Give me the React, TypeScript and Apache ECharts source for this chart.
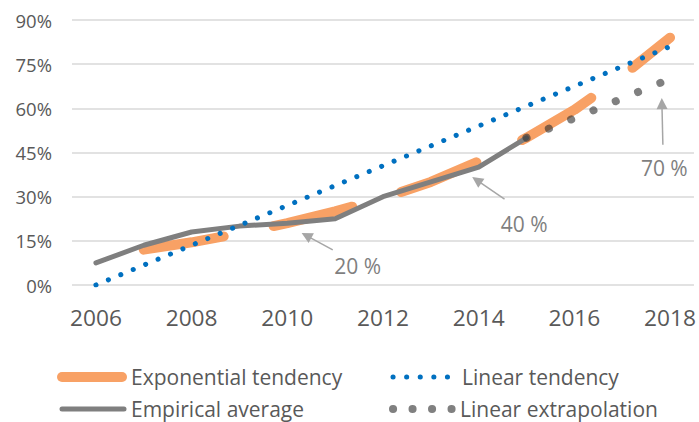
import React, { useEffect, useRef } from "react";
import * as echarts from "echarts";

// ---------- data ----------
const xTicks = [2006, 2008, 2010, 2012, 2014, 2016, 2018];
const empiricalYears = [2006, 2007, 2008, 2009, 2010, 2011, 2012, 2013, 2014, 2015];
const empiricalValues = [7.5, 13.5, 18, 20, 21, 22.5, 30, 35, 40, 50];
const exponentialYears = [2007, 2008, 2009, 2010, 2011, 2012, 2013, 2014, 2015, 2016, 2017, 2018];
const exponentialValues = [12, 14.5, 17.5, 21, 25, 29.5, 35, 42, 50, 59.5, 71, 84];
const linearYears = [2006, 2018];
const linearValues = [0, 81];
const extrapolationYears = [2015, 2018];
const extrapolationValues = [50, 70];

const annotationLabels = ["20 %", "40 %", "70 %"];
const annotationHeads = [[2010.4, 16.8], [2013.96, 35.6], [2017.83, 61.6]];
const annotationTails = [[2010.95, 11.9], [2014.54, 29.2], [2017.85, 47.6]];
const annotationTextAt = [[2011.47, 6.4], [2014.95, 20.7], [2017.88, 39.7]];

const seriesNames = ["Exponential tendency", "Empirical average", "Linear tendency", "Linear extrapolation"];

const FONT = '"Open Sans", sans-serif';
const ORANGE = "#F8A165";
const GRAY = "#7F7F7F";
const BLUE = "#0070C0";
const DOTGRAY = "rgba(50,50,50,0.62)";
const TEXT = "#595959";

const zip = (xs: number[], ys: number[]) => xs.map((x, i) => [x, ys[i]]);

export default function App() {
  const ref = useRef<HTMLDivElement>(null);
  useEffect(() => {
    if (!ref.current) return;
    const chart = echarts.init(ref.current, undefined, { renderer: "svg" });
    const legendText = (x: number, y: number, text: string) => ({
      type: "text",
      x,
      y,
      style: { text, fill: TEXT, fontSize: 21, fontFamily: FONT, align: "left", verticalAlign: "middle" },
    });
    chart.setOption({
      animation: false,
      backgroundColor: "#ffffff",
      grid: { left: 72, right: 4, top: 20, bottom: 137, containLabel: false },
      xAxis: {
        type: "value",
        min: 2005.5,
        max: 2018.5,
        axisLine: { show: false },
        axisTick: { show: false },
        splitLine: { show: false },
        axisLabel: {
          customValues: xTicks,
          formatter: (v: number) => String(v),
          color: TEXT,
          fontSize: 22.7,
          fontFamily: FONT,
          margin: 21,
        },
      },
      yAxis: {
        type: "value",
        min: 0,
        max: 90,
        interval: 15,
        axisLine: { show: false },
        axisTick: { show: false },
        splitLine: { lineStyle: { color: "#D9D9D9", width: 1.5 } },
        axisLabel: { formatter: "{value}%", color: TEXT, fontSize: 18.5, fontFamily: FONT, margin: 20 },
      },
      series: [
        {
          name: seriesNames[0],
          type: "line",
          data: zip(exponentialYears, exponentialValues),
          showSymbol: false,
          symbol: "none",
          lineStyle: { color: ORANGE, width: 10, type: [81, 51], cap: "round", join: "round" },
          silent: true,
        },
        {
          name: seriesNames[1],
          type: "line",
          data: zip(empiricalYears, empiricalValues),
          showSymbol: false,
          symbol: "none",
          lineStyle: { color: GRAY, width: 5, cap: "round", join: "round" },
          silent: true,
          markLine: {
            silent: true,
            symbol: ["none", "triangle"],
            symbolSize: 11,
            lineStyle: { color: "#A6A6A6", width: 1.5, type: "solid" },
            itemStyle: { color: "#A6A6A6" },
            label: { show: false },
            emphasis: { disabled: true },
            data: annotationHeads.map((h, i) => [{ coord: annotationTails[i] }, { coord: h }]),
          },
          markPoint: {
            silent: true,
            symbol: "circle",
            symbolSize: 1,
            itemStyle: { color: "rgba(0,0,0,0)" },
            label: { show: true, position: "inside", color: GRAY, fontSize: 21, fontFamily: FONT },
            data: annotationTextAt.map((c, i) => ({
              coord: c,
              label: { formatter: annotationLabels[i] },
            })),
          },
        },
        {
          name: seriesNames[2],
          type: "line",
          data: zip(linearYears, linearValues),
          showSymbol: false,
          symbol: "none",
          lineStyle: { color: BLUE, width: 5, type: [0.1, 13.35], cap: "round" },
          silent: true,
        },
        {
          name: seriesNames[3],
          type: "line",
          data: zip(extrapolationYears, extrapolationValues),
          showSymbol: false,
          symbol: "none",
          lineStyle: { color: DOTGRAY, width: 8, type: [0.1, 24], cap: "round" },
          silent: true,
        },
      ],
      graphic: [
        { type: "line", shape: { x1: 62, y1: 377, x2: 122, y2: 377 }, style: { stroke: ORANGE, lineWidth: 10, lineCap: "round" } },
        legendText(131, 377, seriesNames[0]),
        { type: "line", shape: { x1: 62, y1: 409, x2: 124, y2: 409 }, style: { stroke: GRAY, lineWidth: 5, lineCap: "round" } },
        legendText(131, 409, seriesNames[1]),
        { type: "line", shape: { x1: 393, y1: 377, x2: 448, y2: 377 }, style: { stroke: BLUE, lineWidth: 5, lineCap: "round", lineDash: [0.1, 13.5] } },
        legendText(462, 377, seriesNames[2]),
        { type: "line", shape: { x1: 393, y1: 409, x2: 452, y2: 409 }, style: { stroke: DOTGRAY, lineWidth: 8, lineCap: "round", lineDash: [0.1, 19.4] } },
        legendText(460, 409, seriesNames[3]),
      ],
    });
    return () => chart.dispose();
  }, []);
  return <div ref={ref} style={{ width: 699, height: 422, position: "absolute", left: 0, top: 0 }} />;
}
